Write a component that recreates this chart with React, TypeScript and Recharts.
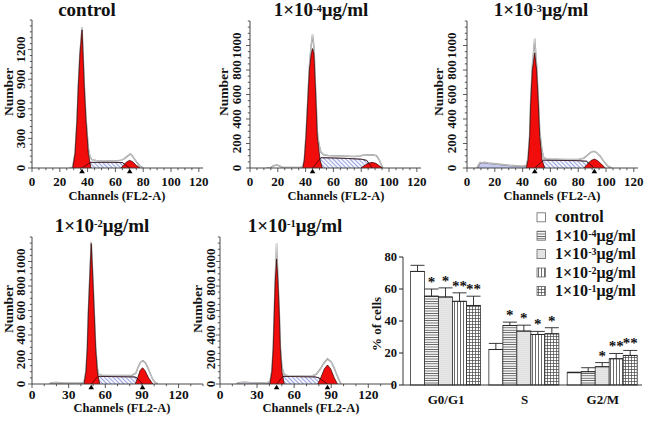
import React from 'react'
import {
  ComposedChart, Area, XAxis, YAxis, ReferenceDot,
  BarChart, Bar, ErrorBar,
} from 'recharts'

const FONT = 'Liberation Serif, Times New Roman, serif'

// ---- histogram data: [channel, number of events] ----
const ctrlTotal = [[27, 0], [29.3, 8], [31, 155], [32.4, 490], [33.3, 828], [34.5, 1165], [36, 1425], [36.7, 1175], [37.6, 845], [38.8, 515], [40.5, 205], [41.7, 115], [43, 85], [46, 76], [50, 72], [55, 70], [60, 70], [63, 75], [66, 90], [68.5, 118], [70.7, 142], [72, 125], [73.5, 95], [75.5, 55], [77.5, 22], [80, 0]]
const ctrlG1 = [[29.3, 0], [31, 150], [32.4, 485], [33.3, 820], [34.5, 1155], [36, 1400], [36.7, 1155], [37.6, 820], [38.8, 485], [40.5, 150], [42.4, 0]]
const ctrlG2 = [[64, 0], [66, 30], [68, 62], [70.3, 78], [72.5, 62], [75, 28], [77.8, 0]]
const ctrlS = [[36, 0], [42, 57], [50, 57], [58, 57], [65, 55], [70.3, 0]]
const ctrlMarks = [36, 70.3]

const d4Total = [[12, 0], [15, 4], [17, 18], [19, 24], [21, 18], [23, 6], [30, 4], [36, 5], [38, 10], [39.1, 75], [40.3, 270], [41.5, 545], [42.7, 820], [44, 1000], [45, 1092], [46, 985], [46.5, 835], [47.5, 560], [48.4, 300], [49.5, 200], [51, 130], [53, 108], [56, 102], [60, 100], [65, 97], [70, 95], [75, 93], [79, 98], [82, 106], [88, 108], [91, 100], [93, 65], [95.5, 0]]
const d4G1 = [[38, 0], [39.1, 66], [40.3, 255], [41.5, 525], [42.7, 795], [44, 930], [45, 975], [46, 930], [46.5, 795], [47.5, 525], [48.4, 255], [50.4, 66], [52, 0]]
const d4G2 = [[79.8, 0], [82, 18], [85, 38], [87.8, 46], [90.5, 38], [93, 18], [95.4, 0]]
const d4S = [[45, 0], [51, 84], [60, 82], [70, 78], [80, 72], [84, 62], [87.8, 0]]
const d4Marks = [45]

const d3Total = [[7, 0], [8.5, 30], [9.5, 44], [11, 42], [12.5, 47], [15, 40], [20, 34], [25, 28], [30, 22], [35, 18], [40, 15], [42.7, 22], [43.9, 82], [45.1, 275], [45.8, 550], [47, 830], [48.7, 1057], [50.1, 830], [51.3, 560], [52.3, 300], [54, 140], [55.2, 85], [57, 76], [60, 73], [70, 70], [80, 70], [84, 80], [87, 108], [89, 128], [91.1, 136], [93, 128], [96, 95], [98, 60], [100, 30], [102, 10], [104.3, 0]]
const d3G1 = [[42.7, 0], [43.9, 66], [45.1, 255], [45.8, 525], [47, 795], [48.7, 940], [50.1, 795], [51.3, 525], [52.3, 255], [54, 66], [55.9, 0]]
const d3G2 = [[84, 0], [86.5, 30], [89, 60], [91.6, 73], [94, 60], [97, 28], [99.5, 0]]
const d3S = [[48.7, 0], [55, 64], [65, 62], [80, 60], [86, 55], [91.6, 0]]
const d3Debris = [[8, 0], [9, 28], [10, 40], [12, 42], [15, 37], [20, 31], [25, 25], [30, 19], [35, 15], [40, 12], [43, 8], [46, 0]]
const d3Marks = [48.7, 91.6]

const d2Total = [[14, 0], [16, 10], [20, 12], [25, 8], [30, 7], [35, 6], [40, 8], [42.6, 15], [44.2, 110], [45.3, 300], [46.1, 575], [47.2, 850], [48.5, 1161], [49.9, 850], [51, 580], [52.1, 310], [53.5, 130], [54.5, 80], [57, 72], [65, 70], [75, 70], [82, 72], [85, 88], [87, 140], [89, 180], [90.8, 190], [93, 170], [95, 130], [97, 80], [99, 35], [101, 10], [103, 0]]
const d2G1 = [[42.6, 0], [44.2, 100], [45.3, 291], [46.1, 563], [47.2, 835], [48.5, 1147], [49.9, 835], [51, 563], [52.1, 291], [53.5, 100], [55.4, 0]]
const d2G2 = [[84.6, 0], [86.5, 50], [88.5, 110], [90.5, 133], [92.5, 110], [95.5, 50], [99, 0]]
const d2S = [[48.5, 0], [54, 62], [70, 60], [84, 58], [86, 50], [90.5, 0]]
const d2Debris = [[14, 0], [16, 8], [20, 10], [30, 6], [40, 6], [43, 0]]
const d2Marks = [48.5, 90.5]

const d1Total = [[13, 0], [15, 10], [20, 14], [25, 11], [30, 10], [35, 9], [38, 11], [40.4, 18], [42, 110], [43.1, 300], [43.9, 580], [44.7, 850], [45.8, 1147], [46.9, 850], [48, 580], [48.8, 310], [50.1, 140], [52, 75], [55, 68], [65, 66], [75, 68], [78, 80], [81, 120], [84, 170], [87, 205], [90, 180], [92, 140], [94, 90], [96, 40], [98, 0]]
const d1G1 = [[40.4, 0], [42, 100], [43.1, 291], [43.9, 563], [44.7, 835], [45.8, 1020], [46.9, 835], [48, 563], [48.8, 291], [50.1, 100], [52, 0]]
const d1G2 = [[79, 0], [81.5, 50], [84.5, 125], [87, 155], [89.5, 125], [92.5, 50], [95.1, 0]]
const d1S = [[45.8, 0], [51, 62], [65, 60], [77, 58], [80, 50], [87, 0]]
const d1Debris = [[13, 0], [15, 9], [20, 12], [30, 9], [38, 9], [41, 0]]
const d1Marks = [45.8, 87]

const xMajor20 = [0, 20, 40, 60, 80, 100, 120]
const xMajor30 = [0, 30, 60, 90, 120]
const yMajor300 = [0, 300, 600, 900, 1200]
const yMajor200 = [0, 200, 400, 600, 800, 1000]

// ---- bar chart data (% of cells) ----
const phases = ['G0/G1', 'S', 'G2/M']
const controlPct = [71, 22.2, 7.7]
const controlErr = [3.8, 3.8, 0.3]
const dose4Pct = [55.5, 37.2, 8.3]
const dose4Err = [4.5, 2.1, 2.5]
const dose3Pct = [55, 33.7, 11.4]
const dose3Err = [5.7, 3.7, 2.6]
const dose2Pct = [52.3, 31.6, 16.4]
const dose2Err = [5.3, 1.9, 3.3]
const dose1Pct = [49.7, 32, 18.5]
const dose1Err = [5.8, 3.8, 3.1]
const controlStars = ['', '', '']
const dose4Stars = ['*', '*', '']
const dose3Stars = ['*', '*', '*']
const dose2Stars = ['**', '*', '**']
const dose1Stars = ['**', '*', '**']
const legendExps = ['', '-4', '-3', '-2', '-1']

const barFills = ['#ffffff', 'url(#pHoriz)', 'url(#pDots)', 'url(#pVert)', 'url(#pGrid)']
const groupPct = [controlPct, dose4Pct, dose3Pct, dose2Pct, dose1Pct]
const groupErr = [controlErr, dose4Err, dose3Err, dose2Err, dose1Err]
const groupStars = [controlStars, dose4Stars, dose3Stars, dose2Stars, dose1Stars]

const barData = phases.map((phase, i) => {
  const row: any = { phase }
  groupPct.forEach((vals, k) => {
    row['v' + k] = vals[i]
    row['e' + k] = [0, groupErr[k][i]]
    row['err' + k] = groupErr[k][i]
    row['s' + k] = groupStars[k][i]
  })
  return row
})

const merge = (series: Record<string, number[][]>) => {
  const rows = new Map<number, any>()
  Object.entries(series).forEach(([key, pts]) => {
    pts.forEach(([ch, n]) => {
      const row = rows.get(ch) || { ch }
      row[key] = n
      rows.set(ch, row)
    })
  })
  return [...rows.values()].sort((a, b) => a.ch - b.ch)
}

const steps = (step: number, max: number) =>
  Array.from({ length: Math.floor(max / step) + 1 }, (_, i) => +(i * step).toFixed(2))

const withMinor = (major: number[], step: number, max: number) =>
  [...new Set([...major, ...steps(step, max)])].sort((a, b) => a - b)

const panels = [
  { left: 32, top: 20, pw: 171, ph: 148, xMax: 123, yMax: 1500, xMajor: xMajor20, xStep: 5, yMajor: yMajor300, yStep: 60, gap: 7, xFs: 13, xDy: 17.5,
    data: merge({ total: ctrlTotal, g1: ctrlG1, g2: ctrlG2, s: ctrlS }), marks: ctrlMarks },
  { left: 249.5, top: 21, pw: 171, ph: 147, xMax: 123, yMax: 1200, xMajor: xMajor20, xStep: 5, yMajor: yMajor200, yStep: 50, gap: 9, xFs: 13, xDy: 17.5,
    data: merge({ total: d4Total, g1: d4G1, g2: d4G2, s: d4S }), marks: d4Marks },
  { left: 467, top: 21, pw: 171, ph: 147, xMax: 123, yMax: 1200, xMajor: xMajor20, xStep: 5, yMajor: yMajor200, yStep: 50, gap: 11, xFs: 13, xDy: 17.5,
    data: merge({ total: d3Total, g1: d3G1, g2: d3G2, s: d3S, debris: d3Debris }), marks: d3Marks },
  { left: 32, top: 237, pw: 171, ph: 147, xMax: 140, yMax: 1200, xMajor: xMajor30, xStep: 10, yMajor: yMajor200, yStep: 50, gap: 7, xFs: 13.5, xDy: 14.5,
    data: merge({ total: d2Total, g1: d2G1, g2: d2G2, s: d2S, debris: d2Debris }), marks: d2Marks },
  { left: 220, top: 237, pw: 173, ph: 147, xMax: 140, yMax: 1200, xMajor: xMajor30, xStep: 10, yMajor: yMajor200, yStep: 50, gap: 5, xFs: 13.5, xDy: 14.5,
    data: merge({ total: d1Total, g1: d1G1, g2: d1G2, s: d1S, debris: d1Debris }), marks: d1Marks },
]

const txt = { fontFamily: FONT, fontWeight: 700 }

const XTick = ({ x, y, payload, major, fs, dy }: any) => {
  const isMajor = major.includes(payload.value)
  return (
    <g>
      <line x1={x} x2={x} y1={y} y2={y + (isMajor ? 4 : 2.2)} stroke="#333" strokeWidth={0.8} />
      {isMajor && (
        <text x={x} y={y + dy} textAnchor="middle" fontSize={fs} style={txt} fill="#111">
          {payload.value}
        </text>
      )}
    </g>
  )
}

const YTick = ({ x, y, payload, major, gap }: any) => {
  const isMajor = major.includes(payload.value)
  return (
    <g>
      <line x1={x - (isMajor ? 4 : 2.2)} x2={x} y1={y} y2={y} stroke="#333" strokeWidth={0.8} />
      {isMajor && (
        <text transform={`translate(${x - gap},${y}) rotate(-90)`} textAnchor="middle" fontSize={13} style={txt} fill="#111">
          {payload.value}
        </text>
      )}
    </g>
  )
}

const Tri = (props: any) => {
  const { cx, cy } = props
  return <path d={`M${cx},${cy + 0.8}L${cx - 2.8},${cy + 5.2}L${cx + 2.8},${cy + 5.2}Z`} fill="#000" />
}

const areaBase = { type: 'linear' as const, connectNulls: true, isAnimationActive: false, dot: false, activeDot: false }

const Histogram = ({ p }: { p: any }) => (
  <div style={{ position: 'absolute', left: p.left - 30, top: p.top - 4 }}>
    <ComposedChart width={p.pw + 44} height={p.ph + 28} data={p.data} margin={{ top: 4, right: 14, left: 0, bottom: 0 }}>
      <XAxis
        dataKey="ch" type="number" domain={[0, p.xMax]} allowDataOverflow
        ticks={withMinor(p.xMajor, p.xStep, p.xMax)} interval={0}
        tickSize={0} tickMargin={0} tickLine={false} height={24}
        axisLine={{ stroke: '#333', strokeWidth: 0.9 }}
        tick={(t: any) => <XTick x={t.x} y={t.y} payload={t.payload} major={p.xMajor} fs={p.xFs} dy={p.xDy} />}
      />
      <YAxis
        type="number" domain={[0, p.yMax]} allowDataOverflow
        ticks={withMinor(p.yMajor, p.yStep, p.yMax)} interval={0}
        tickSize={0} tickMargin={0} tickLine={false} width={30}
        axisLine={{ stroke: '#333', strokeWidth: 0.9 }}
        tick={(t: any) => <YTick x={t.x} y={t.y} payload={t.payload} major={p.yMajor} gap={p.gap} />}
      />
      <Area {...areaBase} dataKey="debris" fill="#c6c9f0" fillOpacity={1} stroke="#666" strokeWidth={0.7} />
      <Area {...areaBase} dataKey="s" fill="url(#hatchS)" fillOpacity={1} stroke="#2a2a50" strokeWidth={0.6} />
      <Area {...areaBase} dataKey="total" fill="none" stroke="#8a8a8a" strokeWidth={1.5} />
      <Area {...areaBase} dataKey="total" fill="none" stroke="#ffffff" strokeWidth={0.5} />
      <Area {...areaBase} dataKey="g1" fill="#f20d0d" fillOpacity={1} stroke="#2a0000" strokeWidth={0.7} />
      <Area {...areaBase} dataKey="g2" fill="#f20d0d" fillOpacity={1} stroke="#2a0000" strokeWidth={0.7} />
      <Area {...areaBase} dataKey="s" fill="none" stroke="#2a0000" strokeWidth={0.7} />
      {p.marks.map((m: number) => (
        <ReferenceDot key={m} x={m} y={0} r={3} ifOverflow="visible" shape={Tri} />
      ))}
    </ComposedChart>
  </div>
)

const barShape = (k: number) => (props: any) => {
  const { x, y, width, height, payload } = props
  const v = payload['v' + k]
  const star = payload['s' + k]
  const top = y - payload['err' + k] * (height / v)
  return (
    <g>
      <rect x={x} y={y} width={width} height={height} fill={barFills[k]} stroke="#333" strokeWidth={0.8} />
      {star && (
        <text x={x + width / 2} y={top - 2} textAnchor="middle" fontSize={15} style={txt} fill="#111">
          {star}
        </text>
      )}
    </g>
  )
}

const Dose = ({ x, y, exp, fs, sup, rise, anchor = 'start' }: any) => (
  <text x={x} y={y} fontSize={fs} style={txt} textAnchor={anchor} fill="#111">
    {exp ? (
      <>
        1×10<tspan dy={-rise} fontSize={sup}>{exp}</tspan>
        <tspan dy={rise}>μg/ml</tspan>
      </>
    ) : 'control'}
  </text>
)

const titles = [
  { x: 87, y: 16, exp: '' },
  { x: 321, y: 16, exp: '-4' },
  { x: 541, y: 16, exp: '-3' },
  { x: 102, y: 231.5, exp: '-2' },
  { x: 295, y: 231.5, exp: '-1' },
]
const numberLabels = [[8, 92], [223, 92], [438.5, 92], [8, 309], [197, 309]]
const channelLabels = [[117, 196], [336, 196], [552, 196], [122, 408], [311, 408]]
const legendRows = [217.3, 235.7, 254.1, 272.5, 290.9]

const Overlay = () => (
  <svg width={645} height={421} style={{ position: 'absolute', left: 0, top: 0, pointerEvents: 'none' }}>
    {titles.map((t, i) => (
      <Dose key={i} x={t.x} y={t.y} exp={t.exp} fs={19} sup={10.5} rise={4.5} anchor="middle" />
    ))}
    {numberLabels.map(([x, y], i) => (
      <text key={i} transform={`translate(${x},${y}) rotate(-90)`} dy="0.35em" textAnchor="middle" fontSize={13.5} style={txt} fill="#111">
        Number
      </text>
    ))}
    {channelLabels.map(([x, y], i) => (
      <text key={i} x={x} y={y} dy="0.35em" textAnchor="middle" fontSize={12.5} style={txt} fill="#111">
        Channels (FL2-A)
      </text>
    ))}
    <text transform="translate(376.5,324) rotate(-90)" dy="0.35em" textAnchor="middle" fontSize={13} style={txt} fill="#111">
      % of cells
    </text>
    {legendRows.map((y, k) => (
      <g key={k}>
        <rect x={537} y={y - 4.5} width={8.5} height={9} fill={barFills[k]} stroke="#666" strokeWidth={0.8} />
        <Dose x={555} y={y + 5} exp={legendExps[k]} fs={16} sup={10} rise={4} />
      </g>
    ))}
  </svg>
)

const Patterns = () => (
  <svg width={0} height={0} style={{ position: 'absolute' }}>
    <defs>
      <pattern id="hatchS" width={3} height={3} patternUnits="userSpaceOnUse" patternTransform="rotate(-45)">
        <rect width={3} height={3} fill="#f5f6ff" />
        <line x1={0.5} y1={0} x2={0.5} y2={3} stroke="#6a78cc" strokeWidth={0.65} />
      </pattern>
      <pattern id="pHoriz" width={4} height={2.4} patternUnits="userSpaceOnUse">
        <rect width={4} height={2.4} fill="#fff" />
        <line x1={0} y1={1.2} x2={4} y2={1.2} stroke="#555" strokeWidth={0.9} />
      </pattern>
      <pattern id="pDots" width={2} height={2} patternUnits="userSpaceOnUse">
        <rect width={2} height={2} fill="#f4f4f4" />
        <circle cx={1} cy={1} r={0.55} fill="#aaa" />
      </pattern>
      <pattern id="pVert" width={3} height={4} patternUnits="userSpaceOnUse">
        <rect width={3} height={4} fill="#fff" />
        <line x1={1.5} y1={0} x2={1.5} y2={4} stroke="#444" strokeWidth={0.8} />
      </pattern>
      <pattern id="pGrid" width={3} height={3} patternUnits="userSpaceOnUse">
        <rect width={3} height={3} fill="#fff" />
        <line x1={1.5} y1={0} x2={1.5} y2={3} stroke="#444" strokeWidth={0.7} />
        <line x1={0} y1={1.5} x2={3} y2={1.5} stroke="#444" strokeWidth={0.7} />
      </pattern>
    </defs>
  </svg>
)

const App = () => (
  <div style={{ position: 'absolute', left: 0, top: 0, width: 645, height: 421, background: '#fff', overflow: 'hidden', fontFamily: FONT }}>
    <Patterns />
    {panels.map((p, i) => <Histogram key={i} p={p} />)}
    <div style={{ position: 'absolute', left: 360, top: 245 }}>
      <BarChart width={285} height={176} data={barData} margin={{ top: 12, right: 3, left: 0, bottom: 5 }} barCategoryGap="4.5%" barGap={0}>
        <XAxis
          dataKey="phase" tickLine={false} tickSize={0} tickMargin={10} height={31} interval={0}
          padding={{ left: 4, right: 0 }} axisLine={{ stroke: '#222', strokeWidth: 0.9 }}
          tick={{ fontSize: 13, fontWeight: 700, fill: '#111', fontFamily: FONT }}
        />
        <YAxis
          domain={[0, 80]} ticks={[0, 20, 40, 60, 80]} interval={0} width={43}
          tickSize={4} tickMargin={2} axisLine={{ stroke: '#222', strokeWidth: 0.9 }} tickLine={{ stroke: '#222' }}
          tick={{ fontSize: 12.5, fontWeight: 700, fill: '#111', fontFamily: FONT }}
        />
        {groupPct.map((_, k) => (
          <Bar key={k} dataKey={'v' + k} isAnimationActive={false} shape={barShape(k)}>
            <ErrorBar dataKey={'e' + k} width={7} stroke="#222" strokeWidth={0.9} direction="y" />
          </Bar>
        ))}
      </BarChart>
    </div>
    <Overlay />
  </div>
)

export default App
